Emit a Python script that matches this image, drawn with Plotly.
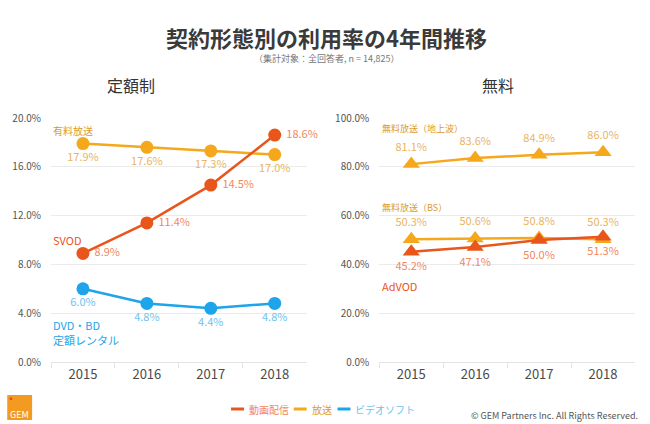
import plotly.graph_objects as go

years = ["2015", "2016", "2017", "2018"]

# 定額制 (left)
svod = [8.9, 11.4, 14.5, 18.6]
paid_tv = [17.9, 17.6, 17.3, 17.0]
dvd_rental = [6.0, 4.8, 4.4, 4.8]

# 無料 (right)
free_terrestrial = [81.1, 83.6, 84.9, 86.0]
free_bs = [50.3, 50.6, 50.8, 50.3]
advod = [45.2, 47.1, 50.0, 51.3]

left_ticks = [0, 4, 8, 12, 16, 20]
right_ticks = [0, 20, 40, 60, 80, 100]

ORANGE = "#E9561C"
ORANGE_LBL = "#F2875C"
YELLOW = "#F5A81C"
YELLOW_LBL = "#E9B562"
YELLOW_NAME = "#DB9A2A"
BLUE = "#1EA4EA"
BLUE_LBL = "#6EC3EE"
FONT = "Noto Sans CJK JP"

fig = go.Figure()

def fmt(vals):
    return [f"{v:.1f}%" for v in vals]

def add(x, y, color, lblcolor, pos, symbol, xa, ya, size, prefix=""):
    fig.add_trace(go.Scatter(
        x=x, y=y, mode="lines+markers+text", xaxis=xa, yaxis=ya,
        line=dict(color=color, width=2.5),
        marker=dict(color=color, size=size, symbol=symbol),
        text=[prefix + t for t in fmt(y)], textposition=pos,
        textfont=dict(color=lblcolor, size=11, family=FONT),
        cliponaxis=False, showlegend=False, hoverinfo="skip"))

# left
add(years, paid_tv, YELLOW, YELLOW_LBL, "bottom center", "circle", "x", "y", 13)
add(years, svod, ORANGE, ORANGE_LBL, "middle right", "circle", "x", "y", 13, prefix=" ")
add(years, dvd_rental, BLUE, BLUE_LBL, "bottom center", "circle", "x", "y", 13)
# right
add(years, free_terrestrial, YELLOW, YELLOW_LBL, "top center", "triangle-up", "x2", "y2", 15)
add(years, free_bs, YELLOW, YELLOW_LBL, "top center", "triangle-up", "x2", "y2", 15)
add(years, advod, ORANGE, ORANGE_LBL, "bottom center", "triangle-up", "x2", "y2", 15)

axis_common = dict(showgrid=True, gridcolor="#EBEBEB", gridwidth=1, zeroline=False,
                   showline=False, tickfont=dict(size=10, color="#555555", family=FONT),
                   ticks="outside", ticklen=7, tickcolor="rgba(0,0,0,0)", fixedrange=True)
xaxis_common = dict(type="category", range=[-0.5, 3.5], showgrid=False, zeroline=False,
                    showline=True, linecolor="#E3E3E3", linewidth=1,
                    ticks="outside", ticklen=5, tickcolor="#E3E3E3", tickson="boundaries",
                    tickfont=dict(size=13, color="#4A4A4A", family=FONT), fixedrange=True)

L, R, T, B = 48, 635, 118, 362
def dom(a, b):
    return [(a - L) / (R - L), (b - L) / (R - L)]

fig.update_layout(
    width=650, height=424,
    margin=dict(l=L, r=650 - R, t=T, b=424 - B),
    paper_bgcolor="white", plot_bgcolor="white",
    font=dict(family=FONT),
    xaxis=dict(domain=dom(48, 305), anchor="y", **xaxis_common),
    xaxis2=dict(domain=dom(378, 635), anchor="y2", **xaxis_common),
    yaxis=dict(range=[0, 20], tickvals=left_ticks, ticktext=[f"{v:.1f}%" for v in left_ticks],
               anchor="x", **axis_common),
    yaxis2=dict(range=[0, 100], tickvals=right_ticks, ticktext=[f"{v:.1f}%" for v in right_ticks],
                anchor="x2", **axis_common),
    showlegend=False,
)

def px_x(p):
    return (p - L) / (R - L)
def px_y(p):
    return (B - p) / (B - T)

ann = []
def text(x, y, s, size, color, xanchor="center", yanchor="middle", weight="normal"):
    ann.append(dict(x=px_x(x), y=px_y(y), xref="paper", yref="paper", text=s,
                    showarrow=False, xanchor=xanchor, yanchor=yanchor,
                    font=dict(size=size, color=color, family=FONT, weight=weight)))

text(325, 37, "契約形態別の利用率の4年間推移", 22, "#3A3A3A", weight="bold")
text(325, 59, "（集計対象：全回答者, n = 14,825）", 9, "#777777")
text(128, 85, "定額制", 16, "#333333")
text(497, 85, "無料", 16, "#333333")

# series name labels
text(48, 130, "有料放送", 10, YELLOW_NAME, xanchor="left")
text(48, 240, "SVOD", 11, ORANGE, xanchor="left")
text(48, 325, "DVD・BD", 11, BLUE, xanchor="left")
text(48, 340, "定額レンタル", 11, BLUE, xanchor="left")
text(379, 128, "無料放送（地上波）", 9, YELLOW_NAME, xanchor="left")
text(379, 207, "無料放送（BS）", 9, YELLOW_NAME, xanchor="left")
text(379, 286, "AdVOD", 11, ORANGE, xanchor="left")

# legend
shapes = []
for x0, col, lab, lcol in [(229, ORANGE, "動画配信", ORANGE_LBL), (292, YELLOW, "放送", YELLOW_NAME), (336, BLUE, "ビデオソフト", BLUE_LBL)]:
    shapes.append(dict(type="line", xref="paper", yref="paper", x0=px_x(x0), x1=px_x(x0 + 13),
                       y0=px_y(409), y1=px_y(409), line=dict(color=col, width=3)))
    text(x0 + 16, 409, lab, 10, lcol, xanchor="left")

text(640, 415, "© GEM Partners Inc. All Rights Reserved.", 9, "#555555", xanchor="right")

# logo
shapes.append(dict(type="rect", xref="paper", yref="paper", x0=px_x(4), x1=px_x(29),
                   y0=px_y(420), y1=px_y(395), fillcolor="#F39A21", line=dict(width=0)))
shapes.append(dict(type="circle", xref="paper", yref="paper", x0=px_x(6.5), x1=px_x(9),
                   y0=px_y(400), y1=px_y(397.5), fillcolor="#E5401B", line=dict(width=0)))
text(16.5, 414, "GEM", 9, "white")

fig.update_layout(annotations=ann, shapes=shapes)
fig.write_html("out.html")
